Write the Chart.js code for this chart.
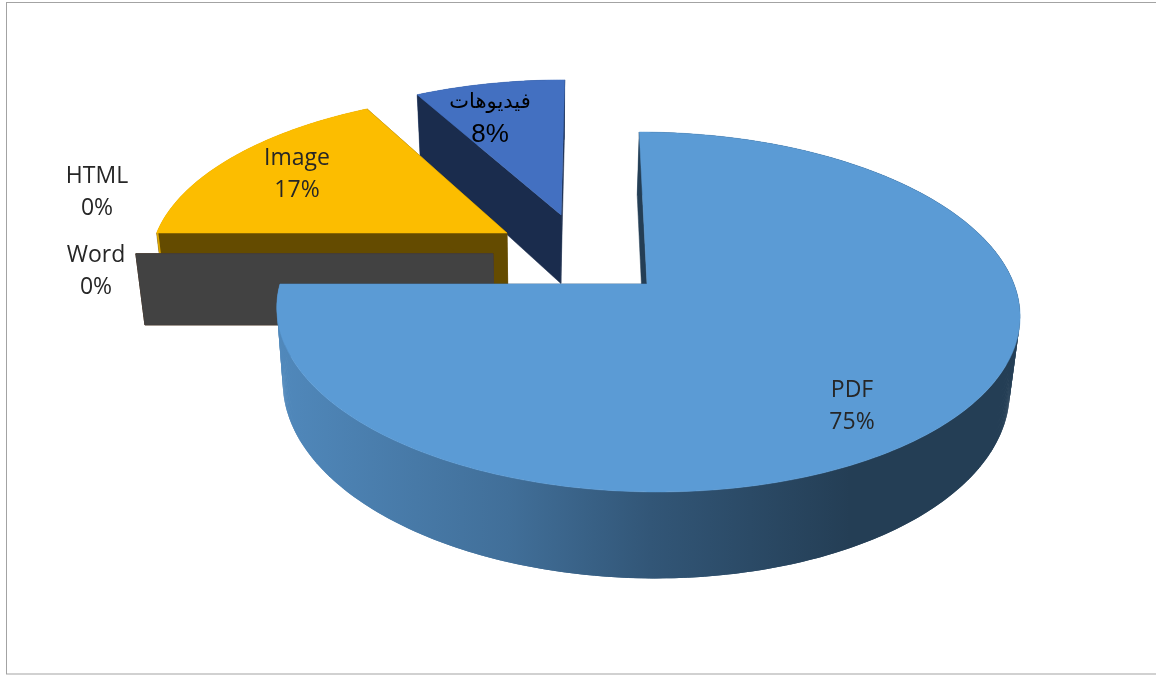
<!DOCTYPE html>
<html><head><meta charset="utf-8">
<style>html,body{margin:0;padding:0;background:#fff;overflow:hidden}canvas{display:block}</style>
<script src="https://cdn.jsdelivr.net/npm/chart.js@4"></script>
</head><body>
<canvas id="c" width="1156" height="675"></canvas>
<script>
const categories = ['PDF', 'Word', 'HTML', 'Image', 'فيديوهات'];
const shares = [75, 0, 0, 17, 8];
const sliceColors = ['#5B9BD5', '#A5A5A5', '#ED7D31', '#FCBD00', '#4370C1'];
const labelCenters = [[852, 390], [96, 255], [97, 176], [297, 158], [490, 103]];
const nameFonts = ['23px "Open Sans"', '23px "Open Sans"', '23px "Open Sans"', '23px "Open Sans"', '21px "DejaVu Sans"'];
const valueFonts = ['23px "Open Sans"', '23px "Open Sans"', '23px "Open Sans"', '23px "Open Sans"', '26px "Liberation Sans"'];
const labelColors = ['#262626', '#262626', '#262626', '#262626', '#000000'];

// Perspective view of the pie plane (first slice's tip is the anchor)
const VIEW = {ax: 647, ay: 284, a: 367, b: 175.6, k: 0.1556, s: 9, depth: 73, xScale: 0.978, nadirX: 548};

function shade(hex, f) {
  const n = parseInt(hex.slice(1), 16);
  return `rgb(${((n >> 16) & 255) * f | 0},${((n >> 8) & 255) * f | 0},${(n & 255) * f | 0})`;
}

const pie3d = {
  id: 'pie3d',
  beforeDraw(chart) {
    const c = chart.ctx;
    c.save();
    c.fillStyle = '#fff';
    c.fillRect(0, 0, chart.width, chart.height);
    c.strokeStyle = '#a3a3a3';
    c.lineWidth = 1;
    c.strokeRect(6.5, 2.5, chart.width + 10, 671.5);
    c.restore();
  },
  beforeDatasetsDraw(chart) {
    const c = chart.ctx;
    const arcs = chart.getDatasetMeta(0).data;
    const tip = a => {
      const mid = (a.startAngle + a.endAngle) / 2, m = a.options.offset / a.outerRadius;
      return [m * Math.cos(mid), m * Math.sin(mid)];
    };
    const base = tip(arcs[0]);
    const top = (X, Y) => {
      const u = X - base[0], v = Y - base[1], w = 1 - VIEW.k * v;
      return [VIEW.ax + (VIEW.a * u + VIEW.s * v) / w, VIEW.ay + VIEW.b * v / w];
    };
    const low = p => {
      const t = (p[1] - VIEW.ay) / VIEW.b;
      return [VIEW.nadirX + (p[0] - VIEW.nadirX) * VIEW.xScale, p[1] + VIEW.depth * (1 + VIEW.k * t)];
    };
    const path = pts => {
      c.beginPath();
      pts.forEach((p, i) => i ? c.lineTo(p[0], p[1]) : c.moveTo(p[0], p[1]));
      c.closePath();
    };
    const poly = (pts, fill) => {
      path(pts);
      c.fillStyle = fill;
      c.fill();
      c.strokeStyle = fill;
      c.lineWidth = 0.5;
      c.stroke();
    };
    c.save();
    for (let i = arcs.length - 1; i >= 0; i--) {
      const a = arcs[i], col = a.options.backgroundColor, t = tip(a);
      const apex = top(t[0], t[1]);
      const span = a.endAngle - a.startAngle, steps = Math.max(1, Math.ceil(span / 0.01));
      const rim = [], angles = [];
      for (let j = 0; j <= steps; j++) {
        const th = a.startAngle + span * j / steps;
        angles.push(th);
        rim.push(top(t[0] + Math.cos(th), t[1] + Math.sin(th)));
      }
      const dark = shade(col, 0.4);
      // horizontal shading of the outer wall
      const g = c.createLinearGradient(280, 0, 850, 0);
      g.addColorStop(0, shade(col, 0.88));
      g.addColorStop(0.4, shade(col, 0.72));
      g.addColorStop(0.65, shade(col, 0.56));
      g.addColorStop(1, dark);
      const wall = front => {
        if (span <= 0) return;
        c.fillStyle = g;
        for (let j = 0; j < steps; j++) {
          if ((Math.sin(angles[j]) >= 0) !== front) continue;
          const e = Math.min(j + 2, steps);   // overlapping quads leave no seams
          path([rim[j], rim[e], low(rim[e]), low(rim[j])]);
          c.fill();
        }
      };
      wall(false);
      [rim[0], rim[rim.length - 1]].forEach(p =>
        poly([apex, p, low(p), low(apex)], dark));
      wall(true);
      if (span > 0) poly([apex].concat(rim), col);
    }
    c.restore();
    return false;
  },
  afterDraw(chart) {
    const c = chart.ctx, data = chart.data.datasets[0].data;
    const sum = data.reduce((p, q) => p + q, 0);
    c.save();
    c.textAlign = 'center';
    c.textBaseline = 'middle';
    chart.data.labels.forEach((name, i) => {
      c.fillStyle = labelColors[i];
      c.font = nameFonts[i];
      c.fillText(name, labelCenters[i][0], labelCenters[i][1]);
      c.font = valueFonts[i];
      c.fillText(Math.round(data[i] / sum * 100) + '%', labelCenters[i][0], labelCenters[i][1] + 32);
    });
    c.restore();
  }
};

new Chart(document.getElementById('c'), {
  type: 'pie',
  data: {
    labels: categories,
    datasets: [{data: shares, backgroundColor: sliceColors, borderWidth: 0, offset: 75, hoverOffset: 0}]
  },
  options: {
    responsive: false,
    animation: false,
    devicePixelRatio: 1,
    events: [],
    layout: {padding: 0},
    plugins: {legend: {display: false}, tooltip: {enabled: false}, title: {display: false}}
  },
  plugins: [pie3d]
});
</script>
</body></html>
